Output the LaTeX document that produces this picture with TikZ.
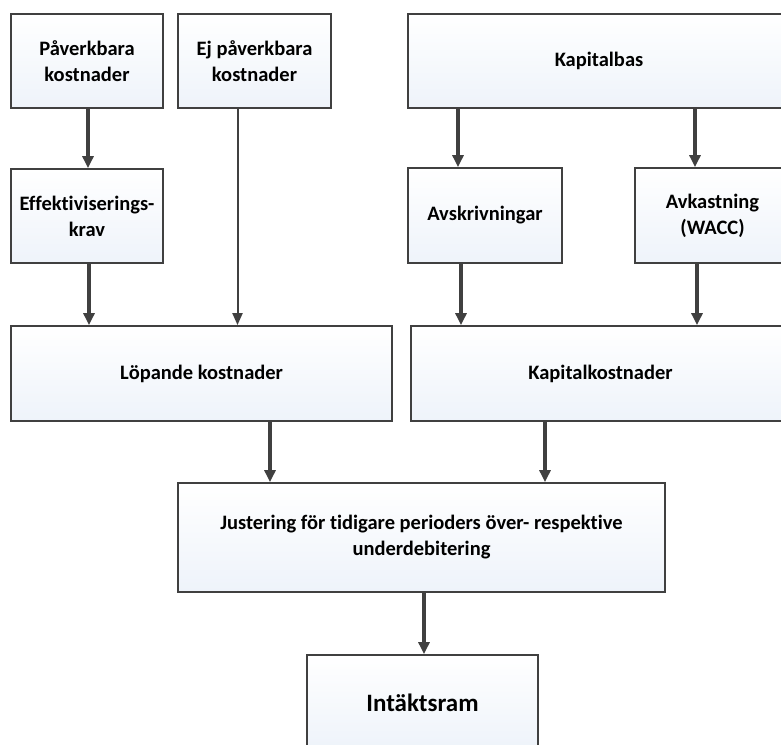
\documentclass[tikz,border=0pt]{standalone}
\usepackage{fontspec}
\setmainfont[Ligatures=NoCommon]{Carlito}
\usetikzlibrary{arrows.meta}

\definecolor{linegray}{RGB}{64,64,64}
\definecolor{boxblue}{RGB}{238,243,250}

\tikzset{
  box/.style={draw=linegray, line width=1.8pt, top color=white, bottom color=boxblue,
    align=center, inner sep=0pt, font=\bfseries\fontsize{20.5}{26}\selectfont},
  arr/.style={draw=linegray, line width=3.5pt, -{Triangle[length=12pt,width=11pt]}},
  thinarr/.style={draw=linegray, line width=2pt, -{Triangle[length=12pt,width=10pt]}}
}

\begin{document}
\begin{tikzpicture}[x=1pt, y=-1pt]
  \useasboundingbox (0,0) rectangle (781,744);

  % top row
  \node[box, minimum width=152pt, minimum height=94pt] (pav) at (87,61) {Påverkbara\\kostnader};
  \node[box, minimum width=153pt, minimum height=94pt] (ej) at (254.5,61) {Ej påverkbara\\kostnader};
  \node[box, minimum width=382pt, minimum height=94pt] (kap) at (599,61) {Kapitalbas};

  % second row
  \node[box, minimum width=152pt, minimum height=94pt] (eff) at (87,216) {Effektiviserings-\\krav};
  \node[box, minimum width=154pt, minimum height=95pt] (avs) at (485,215.5) {Avskrivningar};
  \node[box, minimum width=155pt, minimum height=95pt] (avk) at (712.5,215.5) {Avkastning\\(WACC)};

  % third row
  \node[box, minimum width=381pt, minimum height=95pt] (lop) at (201.5,373.5) {Löpande kostnader};
  \node[box, minimum width=379pt, minimum height=95pt] (kk) at (600.5,373.5) {Kapitalkostnader};

  % bottom
  \node[box, minimum width=487pt, minimum height=109pt] (jus) at (421.5,537.5)
    {Justering för tidigare perioders över- respektive\\underdebitering};
  \node[box, minimum width=231pt, minimum height=95pt, font=\bfseries\fontsize{25}{30}\selectfont] (int) at (422.5,702.5) {Intäktsram};

  % connectors
  \draw[arr] ([xshift=1pt]pav.south) -- ([xshift=1pt]eff.north);
  \draw[arr] ([xshift=2pt]eff.south) -- ([xshift=2pt]eff.south |- lop.north);
  \draw[thinarr] ([xshift=-17pt]ej.south) -- ([xshift=-17pt]ej.south |- lop.north);
  \draw[arr] ([xshift=-27pt]avs.north |- kap.south) -- ([xshift=-27pt]avs.north);
  \draw[arr] ([xshift=-17.5pt]avk.north |- kap.south) -- ([xshift=-17.5pt]avk.north);
  \draw[arr] ([xshift=-24pt]avs.south) -- ([xshift=-24pt]avs.south |- kk.north);
  \draw[arr] ([xshift=-15.5pt]avk.south) -- ([xshift=-15.5pt]avk.south |- kk.north);
  \draw[arr] ([xshift=68.5pt]lop.south) -- ([xshift=68.5pt]lop.south |- jus.north);
  \draw[arr] ([xshift=-55.5pt]kk.south) -- ([xshift=-55.5pt]kk.south |- jus.north);
  \draw[arr] ([xshift=2.5pt]jus.south) -- ([xshift=1.5pt]int.north);
\end{tikzpicture}
\end{document}
